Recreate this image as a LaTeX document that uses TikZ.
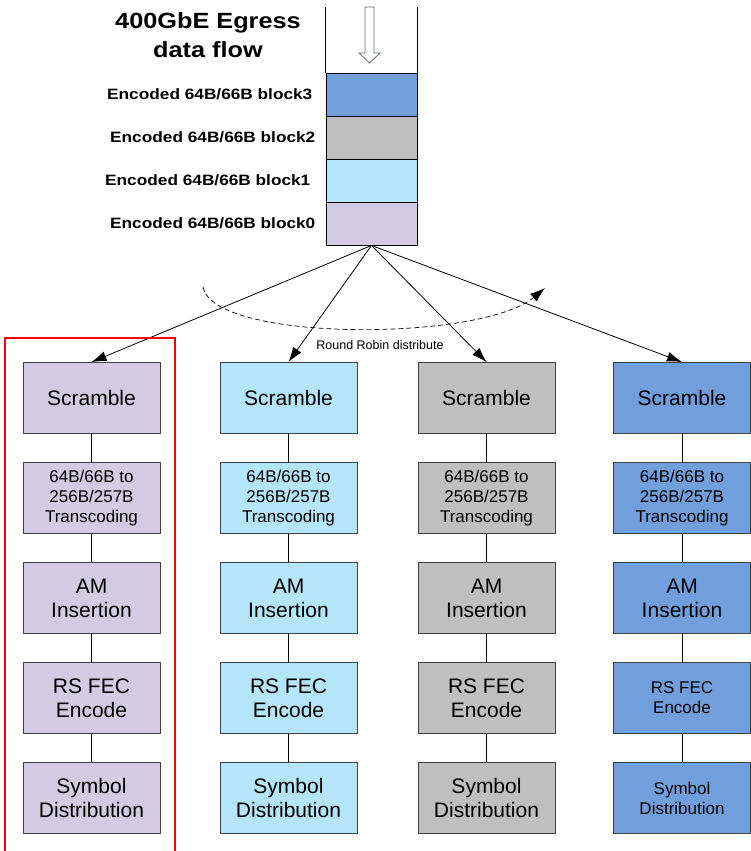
\documentclass[tikz,border=0pt]{standalone}
\usepackage{fontspec}
\setmainfont{Liberation Sans}
\newfontfamily\widefont[FakeStretch=1.15]{Liberation Sans}
\usepackage{tikz}
\definecolor{lav}{RGB}{211,203,225}
\definecolor{cya}{RGB}{180,229,248}
\definecolor{gry}{RGB}{191,191,191}
\definecolor{blu}{RGB}{112,159,220}
\definecolor{edge}{RGB}{64,64,64}
\definecolor{hollow}{RGB}{95,105,125}
\tikzstyle{blk} = [draw=black, line width=0.9pt,
    minimum width=91pt, minimum height=43pt, inner sep=0pt]
\tikzstyle{stage} = [draw=edge, line width=0.9pt, align=center,
    minimum width=137pt, minimum height=71pt, inner sep=0pt]
\tikzstyle{lbl} = [font=\widefont\bfseries\fontsize{15}{18}\selectfont,
    inner sep=0pt, label distance=13pt]
\usetikzlibrary{arrows.meta}
\tikzset{>={Latex[length=15pt,width=10pt]}}

\begin{document}
\begin{tikzpicture}[x=1pt,y=-1pt]
\useasboundingbox (0,0) rectangle (750,851);
    % title
    \node[font=\widefont\bfseries\fontsize{22}{29}\selectfont, align=center]
        (title) at (208,35) {400GbE Egress\\data flow};
    % stacked 64B/66B blocks
    \node[blk, fill=blu, label={[lbl]left:Encoded 64B/66B block3}] (b3) at (371.5,94.5) {};
    \node[blk, fill=gry, label={[lbl,label distance=10pt]left:Encoded 64B/66B block2}] (b2) at (371.5,137.5) {};
    \node[blk, fill=cya, label={[lbl,label distance=15pt]left:Encoded 64B/66B block1}] (b1) at (371.5,180.5) {};
    \node[blk, fill=lav, label={[lbl,label distance=10pt]left:Encoded 64B/66B block0}] (b0) at (371.5,223.5) {};
    \draw[line width=0.9pt] (b3.north west) -- ++(0,-66);
    \draw[line width=0.9pt] (b3.north east) -- ++(0,-66);
    % hollow arrow
    \draw[hollow, fill=white, line width=0.8pt] (365,7) -- (374,7) -- (374,53)
        -- (380,53) -- (369.5,63) -- (359,53) -- (365,53) -- cycle;
    % round robin
    \draw[dashed, dash pattern=on 5pt off 3pt, ->, line width=0.7pt]
        (203,287) .. controls (213,342) and (480,342) .. (545,288);
    \node[font=\fontsize{12.5}{15}\selectfont] (rr) at (380,345) {Round Robin distribute};
    % lanes
    \foreach \c/\x/\col/\fs/\fb in {1/91.5/lav/21/24, 2/288.5/cya/21/24,
        3/486.5/gry/21/24, 4/682/blu/17/20}
    {
    \node[stage, fill=\col, font=\fontsize{21}{24}\selectfont] (s\c) at (\x,398) {Scramble};
    \node[stage, fill=\col, font=\fontsize{17}{20}\selectfont] (t\c) at (\x,498)
        {64B/66B to\\256B/257B\\Transcoding};
    \node[stage, fill=\col, font=\fontsize{21}{24}\selectfont] (a\c) at (\x,598) {AM\\Insertion};
    \node[stage, fill=\col, font=\fontsize{\fs}{\fb}\selectfont] (r\c) at (\x,698) {RS FEC\\Encode};
    \node[stage, fill=\col, font=\fontsize{\fs}{\fb}\selectfont] (d\c) at (\x,798) {Symbol\\Distribution};
    \draw[line width=0.9pt] (s\c) -- (t\c);
    \draw[line width=0.9pt] (t\c) -- (a\c);
    \draw[line width=0.9pt] (a\c) -- (r\c);
    \draw[line width=0.9pt] (r\c) -- (d\c);
    \draw[->, line width=0.8pt] (b0.south) -- (s\c.north);
    }
    % lane 0 highlight
    \draw[red, line width=2pt] (5,338) rectangle (175,860);
\end{tikzpicture}
\end{document}
